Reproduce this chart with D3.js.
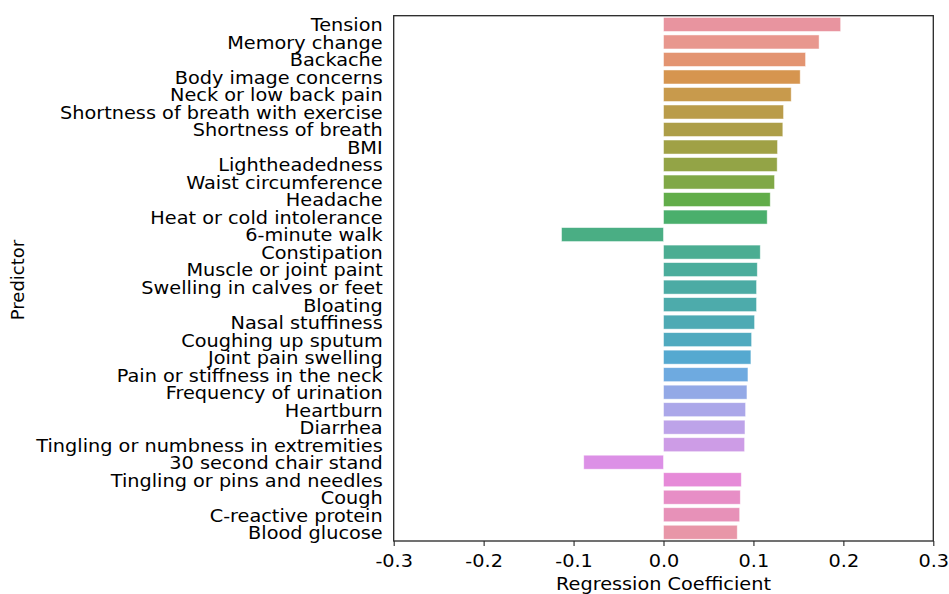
<!DOCTYPE html>
<html>
<head>
<meta charset="utf-8">
<script src="https://cdn.jsdelivr.net/npm/d3@7"></script>
<style>
  html, body { margin: 0; padding: 0; background: #fff; }
  svg { display: block; font-family: "DejaVu Sans", sans-serif; }
</style>
</head>
<body>
<svg id="chart" width="949" height="594"></svg>
<script>
const predictors = [
  "Tension", "Memory change", "Backache", "Body image concerns", "Neck or low back pain",
  "Shortness of breath with exercise", "Shortness of breath", "BMI", "Lightheadedness",
  "Waist circumference", "Headache", "Heat or cold intolerance", "6-minute walk",
  "Constipation", "Muscle or joint paint", "Swelling in calves or feet", "Bloating",
  "Nasal stuffiness", "Coughing up sputum", "Joint pain swelling", "Pain or stiffness in the neck",
  "Frequency of urination", "Heartburn", "Diarrhea", "Tingling or numbness in extremities",
  "30 second chair stand", "Tingling or pins and needles", "Cough", "C-reactive protein", "Blood glucose"
];
const coefficients = [
  0.197, 0.173, 0.158, 0.152, 0.142,
  0.1335, 0.1327, 0.1268, 0.1264,
  0.1235, 0.1187, 0.1153, -0.1134,
  0.1076, 0.1043, 0.1035, 0.1035,
  0.1013, 0.098, 0.0972, 0.0939,
  0.0928, 0.0913, 0.0906, 0.0902,
  -0.0887, 0.0865, 0.0854, 0.0847, 0.082
];
const xTicks = [-0.3, -0.2, -0.1, 0.0, 0.1, 0.2, 0.3];
const palette = [
  "#e8949f", "#e8978e", "#e39471", "#d6954f", "#c89a4c",
  "#ba9c4a", "#ad9e48", "#a0a146", "#93a446", "#80a846",
  "#62ad4a", "#4aaf6c", "#4aae84", "#4bad92", "#4bad9c",
  "#4caba4", "#4dabab", "#4eaab4", "#50aabf", "#55a9d0",
  "#6eaae0", "#93a9e6", "#aba7e9", "#bda3e9", "#cd9ce6",
  "#dc90e6", "#e68ad8", "#e78ec6", "#e791b8", "#e896a8"
];

const svg = d3.select("#chart");
const mLeft = 393.7, mRight = 933.3, mTop = 15.7, mBottom = 541;
const fs = 16.8;   // glyph height
const sx = 1.148;  // horizontal stretch of the reference's text

const x = d3.scaleLinear().domain([-0.3, 0.3]).range([mLeft, mRight]);
const y = d3.scaleBand().domain(predictors).range([mTop, mBottom]).paddingInner(0.2).paddingOuter(0.1);

const data = predictors.map((p, i) => ({ p, v: coefficients[i], c: palette[i] }));

svg.append("g").selectAll("rect").data(data).join("rect")
  .attr("x", d => x(Math.min(0, d.v)))
  .attr("width", d => Math.abs(x(d.v) - x(0)))
  .attr("y", d => y(d.p))
  .attr("height", y.bandwidth())
  .attr("fill", d => d.c)
  .attr("stroke", "rgba(255,255,255,0.6)")
  .attr("stroke-width", 0.8);

// frame
svg.append("rect")
  .attr("x", mLeft).attr("y", mTop)
  .attr("width", mRight - mLeft).attr("height", mBottom - mTop)
  .attr("fill", "none").attr("stroke", "#262626").attr("stroke-width", 1.3);

// x axis
const fmt = d3.format(".1f");
const xAxis = svg.append("g")
  .attr("transform", `translate(0,${mBottom})`)
  .call(d3.axisBottom(x).tickValues(xTicks).tickFormat(d => fmt(d).replace("\u2212", "-")).tickSize(5).tickPadding(9));
xAxis.select(".domain").remove();
xAxis.selectAll("line").attr("stroke", "#262626").attr("stroke-width", 1.1);
xAxis.selectAll("text")
  .attr("font-size", fs).attr("fill", "#000").attr("font-family", "DejaVu Sans")
  .attr("transform", `scale(${sx},1)`);

// y axis
const yAxis = svg.append("g")
  .attr("transform", `translate(${mLeft},0)`)
  .call(d3.axisLeft(y).tickSize(0).tickPadding(11));
yAxis.select(".domain").remove();
yAxis.selectAll("text")
  .attr("font-size", fs).attr("fill", "#000").attr("font-family", "DejaVu Sans")
  .attr("x", null)
  .attr("dy", "0.41em")
  .attr("transform", `translate(-11,0) scale(${sx},1)`);

svg.append("text")
  .attr("transform", `translate(${x(0)},590) scale(${sx},1)`)
  .attr("text-anchor", "middle")
  .attr("font-size", fs)
  .text("Regression Coefficient");

svg.append("text")
  .attr("transform", `translate(24,280) rotate(-90)`)
  .attr("text-anchor", "middle")
  .attr("font-size", 18)
  .text("Predictor");
</script>
</body>
</html>
